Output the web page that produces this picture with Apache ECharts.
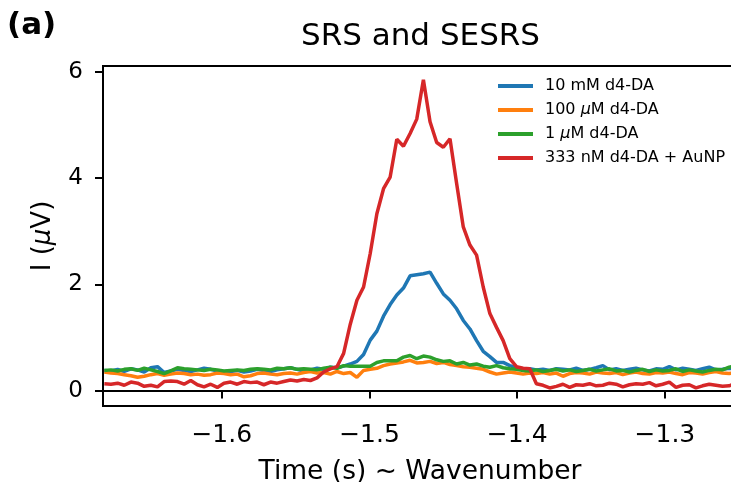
<!DOCTYPE html>
<html>
<head>
<meta charset="utf-8">
<script src="https://cdn.jsdelivr.net/npm/echarts@6/dist/echarts.min.js"></script>
<style>html,body{margin:0;padding:0;background:#fff;}#c{width:731px;height:482px;}</style>
</head>
<body>
<div id="c"></div>
<script>
// Sampling grid of the time axis
const T0 = -1.6795;
const DT = 0.0045;

const seriesNames = ['10 mM d4-DA', '100 μM d4-DA', '1 μM d4-DA', '333 nM d4-DA + AuNP'];
const seriesColors = ['#1f77b4', '#ff7f0e', '#2ca02c', '#d62728'];

const blue = [
  0.38, 0.37, 0.40, 0.36, 0.41, 0.39, 0.35, 0.43, 0.45, 0.34,
  0.37, 0.40, 0.38, 0.36, 0.39, 0.42, 0.40, 0.37, 0.33, 0.36,
  0.38, 0.35, 0.37, 0.40, 0.38, 0.36, 0.39, 0.41, 0.43, 0.40,
  0.37, 0.39, 0.42, 0.40, 0.44, 0.43,
  0.46, 0.50, 0.55, 0.68, 0.95, 1.12, 1.40, 1.62, 1.80, 1.93,
  2.16, 2.18, 2.20, 2.23, 2.02, 1.82, 1.70, 1.54, 1.32, 1.16,
  0.94, 0.74, 0.64, 0.53, 0.53, 0.47, 0.43, 0.40,
  0.41, 0.39, 0.40, 0.38, 0.41, 0.40, 0.39, 0.42, 0.38, 0.40,
  0.43, 0.47, 0.39, 0.41, 0.38, 0.40, 0.42, 0.39, 0.37, 0.41,
  0.40, 0.45, 0.39, 0.42, 0.40, 0.38, 0.41, 0.44, 0.39, 0.40,
  0.42, 0.41
];
const orange = [
  0.35, 0.33, 0.32, 0.30, 0.28, 0.25, 0.27, 0.30, 0.32, 0.29,
  0.31, 0.33, 0.32, 0.30, 0.31, 0.29, 0.30, 0.33, 0.32, 0.30,
  0.31, 0.26, 0.28, 0.32, 0.33, 0.31, 0.30, 0.32, 0.33, 0.31,
  0.34, 0.36, 0.33, 0.34, 0.31, 0.36,
  0.32, 0.34, 0.25, 0.38, 0.40, 0.42, 0.47, 0.50, 0.52, 0.54,
  0.57, 0.52, 0.53, 0.55, 0.51, 0.53, 0.49, 0.47, 0.45, 0.44,
  0.42, 0.40, 0.35, 0.31, 0.33, 0.35, 0.33, 0.31,
  0.33, 0.32, 0.34, 0.31, 0.33, 0.27, 0.32, 0.34, 0.33, 0.31,
  0.35, 0.33, 0.32, 0.34, 0.30, 0.33, 0.35, 0.32, 0.31, 0.34,
  0.33, 0.35, 0.32, 0.30, 0.34, 0.33, 0.31, 0.34, 0.36, 0.33,
  0.32, 0.34
];
const green = [
  0.38, 0.39, 0.37, 0.40, 0.41, 0.38, 0.42, 0.39, 0.36, 0.32,
  0.37, 0.43, 0.41, 0.40, 0.39, 0.38, 0.40, 0.39, 0.37, 0.38,
  0.39, 0.38, 0.40, 0.41, 0.40, 0.39, 0.42, 0.41, 0.43, 0.40,
  0.41, 0.40, 0.39, 0.42, 0.44, 0.42,
  0.47, 0.46, 0.46, 0.46, 0.46, 0.53, 0.56, 0.56, 0.56, 0.63,
  0.66, 0.60, 0.65, 0.63, 0.58, 0.55, 0.56, 0.50, 0.53, 0.48,
  0.50, 0.46, 0.44, 0.47, 0.43, 0.41, 0.40, 0.38,
  0.37, 0.39, 0.36, 0.38, 0.40, 0.37, 0.39, 0.36, 0.38, 0.40,
  0.37, 0.39, 0.41, 0.37, 0.38, 0.35, 0.38, 0.40, 0.36, 0.39,
  0.37, 0.38, 0.41, 0.36, 0.39, 0.37, 0.35, 0.38, 0.40, 0.39,
  0.44, 0.47
];
const red = [
  0.13, 0.12, 0.14, 0.10, 0.16, 0.14, 0.08, 0.10, 0.07, 0.17,
  0.18, 0.17, 0.12, 0.19, 0.11, 0.07, 0.12, 0.06, 0.14, 0.16,
  0.12, 0.17, 0.15, 0.16, 0.11, 0.16, 0.14, 0.17, 0.20, 0.18,
  0.21, 0.19, 0.24,
  0.35, 0.41, 0.45, 0.70, 1.25, 1.70, 1.95, 2.58, 3.33, 3.80,
  4.02, 4.73, 4.60, 4.84, 5.11, 5.85, 5.06, 4.67, 4.58, 4.74,
  3.90, 3.08, 2.74, 2.55, 1.95, 1.45, 1.19, 0.94, 0.60, 0.45,
  0.42, 0.41, 0.13,
  0.10, 0.05, 0.08, 0.12, 0.06, 0.11, 0.10, 0.13, 0.09, 0.10,
  0.14, 0.12, 0.07, 0.11, 0.13, 0.12, 0.15, 0.09, 0.12, 0.16,
  0.06, 0.10, 0.11, 0.05, 0.09, 0.12, 0.10, 0.08, 0.09, 0.14
];

const xTicks = [-1.6, -1.5, -1.4, -1.3];
const yTicks = [0, 2, 4, 6];

const allValues = [blue, orange, green, red];
const times = blue.map((_, i) => T0 + i * DT);

const FONT = 'DejaVu Sans';
const fmtNum = (v, d) => (v < 0 ? '\u2212' : '') + Math.abs(v).toFixed(d);

const chart = echarts.init(document.getElementById('c'), null, { renderer: 'canvas' });
chart.setOption({
  animation: false,
  backgroundColor: '#fff',
  graphic: [
    { type: 'text', x: 420.5, y: 21, style: { text: 'SRS and SESRS', fontFamily: FONT, fontSize: 31, fill: '#000', textAlign: 'center', textVerticalAlign: 'top' } },
    { type: 'text', x: 7, y: 10, style: { text: '(a)', fontFamily: FONT, fontSize: 31, fontWeight: 'bold', fill: '#000', textAlign: 'left', textVerticalAlign: 'top' } }
  ],
  legend: {
    orient: 'vertical', left: 498, top: 76, padding: 0,
    itemWidth: 35, itemHeight: 4, itemGap: 4, icon: 'rect',
    data: seriesNames,
    formatter: n => n.replace('μ', '{i|μ}'),
    textStyle: {
      fontFamily: FONT, fontSize: 16, color: '#000', lineHeight: 20, padding: [0, 0, 0, 7],
      rich: { i: { fontFamily: FONT, fontSize: 16, fontStyle: 'italic', color: '#000' } }
    }
  },
  grid: { left: 103, top: 66, right: -6, bottom: 76, outerBoundsMode: 'none', containLabel: false,
    show: true, borderColor: '#000', borderWidth: 2, backgroundColor: 'transparent' },
  xAxis: {
    type: 'value', min: -1.6804, max: -1.2512,
    name: 'Time (s) ~ Wavenumber', nameLocation: 'middle', nameGap: 53,
    nameTextStyle: { fontFamily: FONT, fontSize: 26.5, color: '#000' },
    axisLine: { show: true, lineStyle: { color: '#000', width: 2 } },
    axisTick: { show: true, inside: false, length: 8, lineStyle: { color: '#000', width: 2 }, customValues: xTicks },
    axisLabel: { fontFamily: FONT, fontSize: 25, color: '#000', margin: 17, customValues: xTicks, formatter: v => fmtNum(v, 1) },
    splitLine: { show: false }
  },
  yAxis: {
    type: 'value', min: -0.29, max: 6.11,
    name: 'I ({i|μ}V)', nameLocation: 'middle', nameGap: 47, nameRotate: 90,
    nameTextStyle: { fontFamily: FONT, fontSize: 26, color: '#000',
      rich: { i: { fontFamily: FONT, fontSize: 26, fontStyle: 'italic', color: '#000' } } },
    axisLine: { show: true, lineStyle: { color: '#000', width: 2 } },
    axisTick: { show: true, inside: false, length: 8, lineStyle: { color: '#000', width: 2 }, customValues: yTicks },
    axisLabel: { fontFamily: FONT, fontSize: 23, color: '#000', margin: 20, customValues: yTicks, formatter: v => fmtNum(v, 0) },
    splitLine: { show: false }
  },
  series: seriesNames.map((name, k) => ({
    name, type: 'line', showSymbol: false, symbol: 'none',
    color: seriesColors[k],
    lineStyle: { width: 3.5, color: seriesColors[k] },
    data: times.map((t, i) => [t, allValues[k][i]]),
    z: 2 + k
  }))
});
</script>
</body>
</html>
